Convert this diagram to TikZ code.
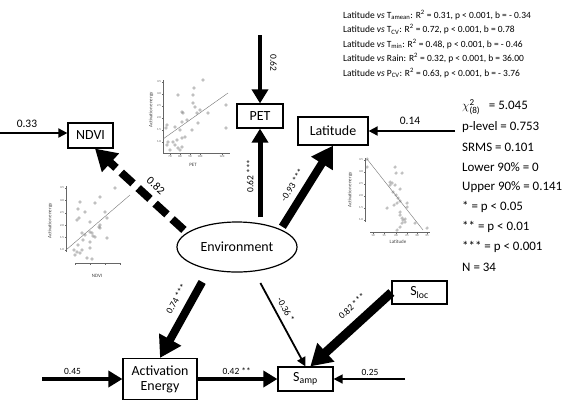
\documentclass[tikz,border=0pt]{standalone}
\usepackage{amsmath}
\usepackage{fontspec}
\setmainfont{Carlito}
\usetikzlibrary{shapes}
\usetikzlibrary{arrows.meta}

\begin{document}
\begin{tikzpicture}[x=1bp,y=-1bp]
    \tikzstyle{observed}    = [draw,rectangle,line width=1.2bp,inner sep=0pt,font=\fontsize{14}{15}\selectfont]
    \tikzstyle{latent}      = [draw,ellipse,line width=1.2bp,inner sep=0pt,minimum width=120bp,minimum height=50bp,font=\fontsize{14}{15}\selectfont]
    \tikzstyle{coef}        = [font=\fontsize{9.5}{10}\selectfont,inner sep=1.5bp]
    \tikzstyle{big coef}    = [coef,font=\fontsize{11.5}{12}\selectfont]
    \tikzstyle{note}        = [anchor=west,inner sep=0pt,font=\fontsize{9.5}{11}\selectfont]
    \tikzstyle{stat}        = [anchor=west,inner sep=0pt,font=\fontsize{13}{15}\selectfont]

    \tikzstyle{thin edge}   = [draw,line width=1.8bp,-{Triangle[length=9bp,width=9bp]}]
    \tikzstyle{mid edge}    = [draw,line width=4bp,-{Triangle[length=14bp,width=16bp]}]
    \tikzstyle{heavy edge}  = [draw,line width=8bp,-{Triangle[length=21bp,width=24bp]}]
    \tikzstyle{dashed edge} = [heavy edge,dash pattern=on 16bp off 7bp]

    \tikzstyle{plotaxis}    = [draw,line width=0.4bp,black!60]
    \tikzstyle{fitline}     = [draw,line width=0.4bp,black!55]
    \tikzstyle{datum}       = [draw,line width=0.3bp,black!50]
    \tikzstyle{ticklabel}   = [inner sep=0.5bp,font=\fontsize{3}{3}\selectfont,black!70]
    \tikzstyle{axislabel}   = [inner sep=0pt,font=\fontsize{5}{5}\selectfont,black!75]

    \useasboundingbox (0,0) rectangle (573,401);

    \node[observed,minimum width=45bp,minimum height=25bp] (ndvi) at (90.5,135.5) {NDVI};
    \node[observed,minimum width=46bp,minimum height=24bp] (pet)  at (260,116)    {PET};
    \node[observed,minimum width=70bp,minimum height=28bp] (lat)  at (333,131)    {Latitude};
    \node[latent]                                          (env)  at (237,247)    {Environment};
    \node[observed,minimum width=74bp,minimum height=41bp,align=center] (act) at (160,379) {Activation\\Energy};
    \node[observed,minimum width=55bp,minimum height=24bp] (samp) at (305.5,379)  {S\textsubscript{amp}};
    \node[observed,minimum width=55bp,minimum height=23bp] (sloc) at (419.5,292.5) {S\textsubscript{loc}};

    \coordinate (n0) at (0,133);
    \coordinate (p0) at (260,35);
    \coordinate (l0) at (455,131);
    \coordinate (a0) at (42,379);
    \coordinate (s0) at (405,379);

    \draw[thin edge] (n0) -- (n0 -| ndvi.west) node[big coef,pos=0.4,above=3bp] (k1) {0.33};
    \draw[mid edge,line width=4.5bp] (p0) -- (pet.north) node[coef,pos=0.41,above=6.5bp,sloped] (k2) {0.62};
    \draw[thin edge] (l0) -- (lat.east) node[big coef,pos=0.52,above=4bp] (k3) {0.14};
    \draw[mid edge,line width=3.5bp] (a0) -- (act.west) node[coef,pos=0.38,above=1bp] (k4) {0.45};
    \draw[thin edge,line width=1.5bp] (s0) -- (samp.east) node[coef,pos=0.49,above=1bp] (k5) {0.25};
    \draw[mid edge] (act.east) -- (samp.west) node[coef,pos=0.49,above=1bp] (k6) {0.42 **};

    \draw[dashed edge,shorten <=4bp] (env.164) -- (ndvi.-71) node[big coef,pos=0.44,above=4.5bp,sloped] (k7) {0.82};
    \draw[mid edge,line width=5bp,shorten <=6bp] (env.45 -| pet.south) -- (pet.south) node[coef,pos=0.5,above=2.5bp,sloped,allow upside down] (k8) {0.62 ***};
    \draw[heavy edge,shorten <=3bp] (env.22) -- (lat.south) node[coef,pos=0.44,above=4.5bp,sloped] (k9) {-0.93 ***};
    \draw[heavy edge,shorten <=14bp] (env.219) -- (act.north) node[coef,pos=0.41,above=5.5bp,sloped] (k10) {0.74 ***};
    \draw[thin edge,shorten <=13bp] (env.-55) -- (samp.north) node[coef,pos=0.45,above=4bp,sloped] (k11) {-0.36 *};
    \draw[heavy edge,line width=9bp] (sloc.west) -- (samp.69) node[coef,pos=0.35,above=7bp,sloped] (k12) {0.82 ***};

    \foreach \txt [count=\i] in {
        {Latitude \textit{vs} T\textsubscript{amean}: R\textsuperscript{2} = 0.31, p < 0.001, b = - 0.34},
        {Latitude \textit{vs} T\textsubscript{CV}: R\textsuperscript{2} = 0.72, p < 0.001, b = 0.78},
        {Latitude \textit{vs} T\textsubscript{min}: R\textsuperscript{2} = 0.48, p < 0.001, b = - 0.46},
        {Latitude \textit{vs} Rain: R\textsuperscript{2} = 0.32, p < 0.001, b = 36.00},
        {Latitude \textit{vs} P\textsubscript{CV}: R\textsuperscript{2} = 0.63, p < 0.001, b = - 3.76}}
        \node[note] (fit\i) at (343,{15+14.5*(\i-1)}) {\txt};

    \foreach \txt [count=\i] in {
        {$\chi^{\text{2}}_{\text{(8)}}$\ \ \ = 5.045},
        {p-level = 0.753},
        {SRMS = 0.101},
        {Lower 90\% = 0},
        {Upper 90\% = 0.141},
        {* = p < 0.05},
        {** = p < 0.01},
        {*** = p < 0.001},
        {N = 34}}
        \node[stat] (st\i) at (462,{107+20*(\i-1)}) {\txt};

    % PET scatter
    \draw[plotaxis] (163,80) -- (163,153) -- (230,153);
    \foreach \v [count=\k] in {1.0,1.5,2.0,2.5,3.0,3.5}
        \draw[plotaxis] (163,{142-12*(\k-1)}) -- ++(-1.5,0) node[ticklabel,anchor=east] (pety\k) {\v};
    \foreach \v/\px [count=\k] in {70/170,80/180,90/190,100/200,120/222}
        \draw[plotaxis] (\px,153) -- ++(0,1.5) node[ticklabel,anchor=north] (petx\k) {\v};
    \foreach \px/\py in {167/125,166/128,168/142,167/145,170/150,173/142,175/145,178/148,180/150,182/147,177/140,182/138,185/137,180/130,182/122,175/127,178/95,182/112,183/113,193/95,194/88,193/103,195/107,197/113,198/123,200/110,187/120,192/130,208/113,203/80,226/105,226/128}
        \draw[datum] (\px,\py) circle[radius=1.3bp];
    \draw[fitline] (163,139) -- (228,93);
    \node[axislabel,rotate=90] (petyl) at (151,110) {Activation energy};
    \node[axislabel] (petxl) at (193,165) {PET};

    % NDVI scatter
    \draw[plotaxis] (66,186) -- (66,252);
    \draw[plotaxis] (75,263) -- (120,263);
    \foreach \v [count=\k] in {1.0,1.5,2.0,2.5,3.0,3.5}
        \draw[plotaxis] (66,{250-12.4*(\k-1)}) -- ++(-1.5,0) node[ticklabel,anchor=east] (ndviy\k) {\v};
    \foreach \px in {75,90,105,120}
        \draw[plotaxis] (\px,263) -- ++(0,1.5);
    \foreach \px/\py in {115/188,80/202,95/203,100/197,78/209,77/220,79/218,85/212,90/222,105/212,107/218,100/225,82/233,85/235,90/232,92/233,93/236,95/237,100/228,107/238,90/242,78/245,74/250,77/252,75/255,80/253,82/250,90/248,87/258,92/259,99/227,83/240}
        \draw[datum] (\px,\py) circle[radius=1.3bp];
    \draw[fitline] (66,250) -- (130,195);
    \node[axislabel,rotate=90] (ndviyl) at (50,221) {Activation energy};
    \node[axislabel] (ndvixl) at (97,276) {NDVI};

    % Latitude scatter
    \draw[plotaxis] (365,158) -- (365,222);
    \draw[plotaxis] (370,232) -- (430,232);
    \foreach \v [count=\k] in {1.0,1.5,2.0,2.5,3.0,3.5}
        \draw[plotaxis] (365,{220-12*(\k-1)}) -- ++(-1.5,0) node[ticklabel,anchor=east] (laty\k) {\v};
    \foreach \v/\px [count=\k] in {10/373,15/384,20/396,25/407,30/417,35/427}
        \draw[plotaxis] (\px,232) -- ++(0,1.5) node[ticklabel,anchor=north] (latx\k) {\v};
    \foreach \px/\py in {367/159,367/167,395/167,396/173,402/173,390/182,392/183,395/185,400/189,393/192,396/195,398/198,400/201,397/203,394/205,387/208,407/203,407/207,400/212,400/215,402/218,403/220,405/222,402/223,400/227,397/230,415/223,427/228,405/219,390/185}
        \draw[datum] (\px,\py) circle[radius=1.3bp];
    \draw[fitline] (367,159) -- (423,230);
    \node[axislabel,rotate=90] (latyl) at (350,190) {Activation energy};
    \node[axislabel] (latxl) at (398,242) {Latitude};
\end{tikzpicture}
\end{document}
